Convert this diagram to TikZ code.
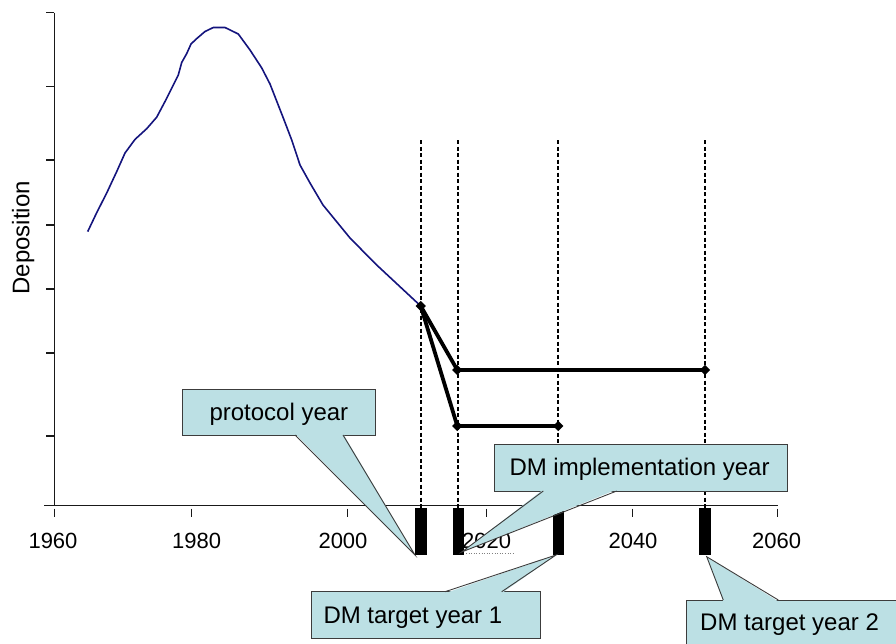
\documentclass[tikz,border=0pt]{standalone}
\usepackage{fontspec}
\setmainfont{Liberation Sans}
\usetikzlibrary{shapes.geometric}
\definecolor{navyline}{RGB}{20,20,125}
\definecolor{callfill}{RGB}{188,224,228}
\definecolor{callline}{RGB}{60,60,60}
\begin{document}
\begin{tikzpicture}[x=1pt,y=-1pt,
  axisline/.style={line width=1.2pt, draw=black!90},
  tickmark/.style={line width=1.2pt, draw=black!90},
  ticklabel/.style={font=\fontsize{22}{26}\selectfont, anchor=base, inner sep=0pt},
  guide/.style={line width=2.2pt, dash pattern=on 4pt off 2.5pt},
  yearbar/.style={fill=black, draw=none},
  steppath/.style={line width=3.8pt, line join=round},
  marker/.style={diamond, fill=black, inner sep=0pt, minimum size=10.5pt},
  calloutbox/.style={fill=callfill, draw=callline, line width=0.9pt},
  pointerfill/.style={fill=callfill, draw=none},
  pointerline/.style={draw=callline, line width=0.9pt, line join=miter},
  callouttext/.style={font=\fontsize{24}{28}\selectfont, anchor=base west, inner sep=0pt},
]
\useasboundingbox (0,0) rectangle (896,643);
\clip (0,0) rectangle (896,643);

% axes
\draw[axisline] (54.3,12.5) -- (54.3,505.7);
\draw[axisline] (44.3,505.7) -- (777.7,505.7);
\foreach \yy in {12.5,86.5,160,225,289,353,436}
  \draw[tickmark] (46,\yy) -- (54.3,\yy);
\foreach \xx in {54.3,191.7,347.7,486.7,632.7,777.7}
  \draw[tickmark] (\xx,508.5) -- (\xx,517);

% tick labels
\node[ticklabel] (l1960) at (53,548.3) {1960};
\node[ticklabel] (l1980) at (196.7,548.3) {1980};
\node[ticklabel] (l2000) at (343,548.3) {2000};
\node[ticklabel] (l2020) at (486.7,548.3) {2020};
\node[ticklabel] (l2040) at (633,548.3) {2040};
\node[ticklabel] (l2060) at (776.7,548.3) {2060};
\draw[gray, line width=0.6pt, dotted] (463.3,553.3) -- (513.3,553.3);

% y label
\node[font=\fontsize{24}{28}\selectfont, anchor=base, rotate=90, inner sep=0pt] (ylab) at (29.3,237.8) {Deposition};

% deposition curve
\draw[navyline, line width=1.6pt, line join=round]
  (87.7,231.6) -- (96.7,212.7) -- (106.7,193) -- (116.7,171.6) -- (125,153)
  -- (135,139.4) -- (146.7,128.7) -- (156.7,117.2) -- (166.7,98.3) -- (178.3,75)
  -- (181.7,62.5) -- (186.7,53.6) -- (191,44) -- (196.7,38.6) -- (205,31.5)
  -- (213.3,27.5) -- (225,27.5) -- (238.3,34) -- (250,50) -- (261.7,67.9)
  -- (270,84) -- (283.3,118) -- (291.7,140) -- (300,165) -- (310,183)
  -- (323,205) -- (350,238) -- (376.7,265) -- (420.7,306);

% dashed guides
\foreach \xx in {421,458.3,558.3,705}
  \draw[guide] (\xx,140) -- (\xx,508.3);

% year bars
\fill[yearbar] (415.2,508.3) rectangle (426.8,555);
\fill[yearbar] (452.6,508.3) rectangle (464,555);
\fill[yearbar] (552.7,508.3) rectangle (564.2,555);
\fill[yearbar] (699.3,508.3) rectangle (710.7,555);

% scenario lines
\node[marker] (m0) at (420.7,306) {};
\node[marker] (m1) at (457.3,370) {};
\node[marker] (m2) at (705,370) {};
\node[marker] (m3) at (457.3,426) {};
\node[marker] (m4) at (558.3,426) {};
\draw[steppath] (m0.center) -- (m1.center) -- (m2.center);
\draw[steppath] (m0.center) -- (m3.center) -- (m4.center);

% callout: protocol year
\coordinate (tipP) at (415,555);
\draw[calloutbox] (182.7,389.3) rectangle (375,435);
\fill[pointerfill] (295,433.5) -- (tipP) -- (343,433.5) -- cycle;
\draw[pointerline] (295,435) -- (tipP) -- (343,435);
\node[callouttext] (tP) at (209.3,420.7) {protocol year};

% callout: DM implementation year
\coordinate (tipI) at (461.7,552);
\draw[calloutbox] (494.3,444.7) rectangle (787.3,491);
\fill[pointerfill] (543.3,489.5) -- (tipI) -- (616.7,489.5) -- cycle;
\draw[pointerline] (543.3,491) -- (tipI) -- (616.7,491);
\node[callouttext] (tI) at (509.3,475) {DM implementation year};

% callout: DM target year 1
\coordinate (tipA) at (556,555);
\draw[calloutbox] (311.7,591.7) rectangle (540.7,638.3);
\fill[pointerfill] (445,593.2) -- (tipA) -- (501.7,593.2) -- cycle;
\draw[pointerline] (445,591.7) -- (tipA) -- (501.7,591.7);
\node[callouttext] (tA) at (323.3,623.3) {DM target year 1};

% callout: DM target year 2
\coordinate (tipB) at (706.7,556.7);
\draw[calloutbox] (686.7,600) rectangle (930,680);
\fill[pointerfill] (723.3,601.5) -- (tipB) -- (778.3,601.5) -- cycle;
\draw[pointerline] (723.3,600) -- (tipB) -- (778.3,600);
\node[callouttext] (tB) at (700,630.7) {DM target year 2};
\end{tikzpicture}
\end{document}
